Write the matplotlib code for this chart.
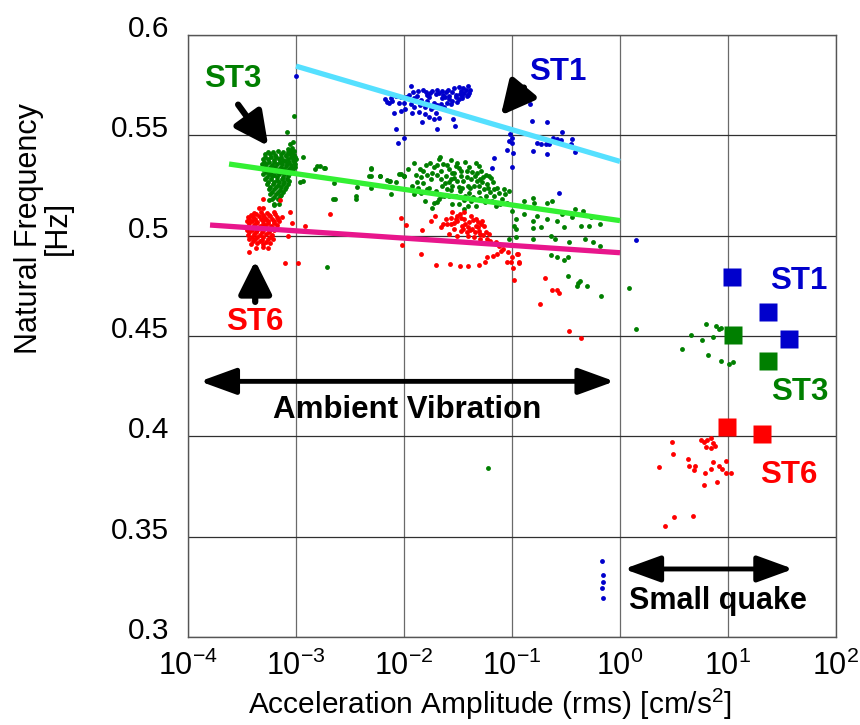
import numpy as np
import matplotlib
matplotlib.use('Agg')
import matplotlib.pyplot as plt
from matplotlib.transforms import ScaledTranslation

plt.rcParams['font.family'] = ['Liberation Sans', 'DejaVu Sans']
plt.rcParams['mathtext.fontset'] = 'custom'
plt.rcParams['mathtext.rm'] = 'Liberation Sans'
plt.rcParams['mathtext.it'] = 'Liberation Sans:italic'
plt.rcParams['mathtext.bf'] = 'Liberation Sans:bold'

# ==========================================================
# DADOS (amplitude rms [cm/s2], frequencia natural [Hz])
# ==========================================================
# ST1 - vibracao ambiente
st1_pts = [
    (1.15e-2, .5745), (1.51e-2, .5728), (1.83e-2, .5720), (2.1e-2, .5712), (2.43e-2, .5715),
    (2.81e-2, .5717), (3.36e-2, .5723), (3.92e-2, .5745), (4.09e-2, .5728), (3.81e-2, .5695),
    (3.24e-2, .5679), (2.81e-2, .5670), (2.52e-2, .5662), (2.19e-2, .5654), (1.9e-2, .5662),
    (1.64e-2, .5670), (1.43e-2, .5675), (1.24e-2, .5687), (1.15e-2, .5654), (1.0e-2, .5662),
    (9.0e-3, .5662), (7.8e-3, .5670), (7.0e-3, .5667), (6.6e-3, .5682), (8.1e-3, .5612),
    (9.3e-3, .5620), (1.03e-2, .5629), (1.19e-2, .5612), (1.37e-2, .5615), (1.58e-2, .5604),
    (1.77e-2, .5629), (1.96e-2, .5612), (2.1e-2, .5588), (1.9e-2, .5579), (1.48e-2, .5566),
    (2.04e-2, .5533), (2.87e-2, .5579), (2.95e-2, .5546), (8.5e-3, .5530), (1.0e-2, .5485),
    (8.8e-3, .5460), (2.27e-2, .5687), (2.61e-2, .5695), (3.01e-2, .5703), (3.48e-2, .5698),
    (3.6e-2, .5712), (1.64e-2, .5703), (1.33e-2, .5695), (1.11e-2, .5703), (9.3e-3, .5692),
    (7.5e-3, .5687), (1.96e-2, .5708), (1.7e-2, .5690), (2.3e-2, .5700), (2.6e-2, .5680),
    (3.0e-2, .5690), (3.3e-2, .5705), (1.4e-2, .5650), (2.0e-2, .5650), (2.4e-2, .5690),
    (1.2e-2, .5715), (1.35e-2, .5720), (1.6e-2, .5718), (1.75e-2, .5712), (2.0e-2, .5725),
    (2.25e-2, .5722), (2.55e-2, .5728), (2.9e-2, .5735), (3.2e-2, .5740), (3.5e-2, .5735),
    (3.75e-2, .5725), (4.0e-2, .5710), (3.9e-2, .5700), (3.45e-2, .5685), (3.1e-2, .5665),
    (2.7e-2, .5655), (2.35e-2, .5640), (1.85e-2, .5640), (1.55e-2, .5640), (1.25e-2, .5640),
    (1.05e-2, .5690), (8.5e-3, .5695), (7.3e-3, .5660), (1.7e-2, .5590),
    (1.0e-3, .5794),
    (9.6e-2, .5505), (9.9e-2, .5488), (9.4e-2, .5471), (0.100, .5460), (9.0e-2, .5427),
    (0.102, .5414), (0.100, .5340), (6.8e-2, .5387), (6.5e-2, .5336),
    (0.148, .5657), (0.153, .5571), (0.21, .5566), (0.29, .5518), (0.17, .5460),
    (0.186, .5455), (0.205, .5455), (0.24, .5488), (0.285, .5476), (0.36, .5480),
    (0.35, .5455), (0.38, .5417), (0.155, .5422), (0.21, .5405), (0.22, .5455),
    (0.23, .5471), (0.26, .5480), (0.27, .5212), (1.42, .4978),
    (0.68, .3378), (0.70, .3310), (0.69, .3275), (0.68, .3245), (0.69, .3194),
]

# ST3 - vibracao ambiente
st3_pts = [
    # nucleo denso em ~7e-4
    (5.2e-4, .5405), (5.8e-4, .5408), (6.4e-4, .5403), (7.2e-4, .5406), (8.0e-4, .5404), (8.8e-4, .5407), (9.6e-4, .5402),
    (4.9e-4, .5380), (5.5e-4, .5383), (6.2e-4, .5378), (6.9e-4, .5381), (7.6e-4, .5379), (8.5e-4, .5382), (9.3e-4, .5378), (1.0e-3, .5381),
    (4.8e-4, .5356), (5.3e-4, .5358), (6.0e-4, .5354), (6.6e-4, .5357), (7.4e-4, .5355), (8.2e-4, .5358), (9.0e-4, .5354), (9.7e-4, .5356),
    (4.9e-4, .5331), (5.5e-4, .5333), (6.2e-4, .5329), (6.9e-4, .5332), (7.7e-4, .5330), (8.6e-4, .5333), (9.4e-4, .5330),
    (5.0e-4, .5306), (5.6e-4, .5308), (6.3e-4, .5304), (7.0e-4, .5307), (7.8e-4, .5305), (8.7e-4, .5307),
    (5.2e-4, .5281), (5.9e-4, .5283), (6.6e-4, .5279), (7.4e-4, .5282), (8.3e-4, .5280),
    (5.4e-4, .5256), (6.1e-4, .5258), (6.8e-4, .5254), (7.6e-4, .5257), (8.4e-4, .5255),
    (5.6e-4, .5231), (6.3e-4, .5233), (7.1e-4, .5229), (7.9e-4, .5232),
    (5.8e-4, .5207), (6.5e-4, .5209), (7.3e-4, .5205),
    (6.0e-4, .5182), (6.8e-4, .5184), (6.3e-4, .5160), (7.0e-4, .5158),
    (5.5e-4, .5418), (6.1e-4, .5418), (6.8e-4, .5420), (7.6e-4, .5417), (8.4e-4, .5419), (9.2e-4, .5418),
    (5.2e-4, .5393), (5.85e-4, .5394), (6.55e-4, .5392), (7.3e-4, .5393), (8.1e-4, .5395), (8.9e-4, .5392), (9.7e-4, .5393),
    (5.05e-4, .5368), (5.65e-4, .5369), (6.3e-4, .5367), (7.05e-4, .5368), (7.9e-4, .5370), (8.7e-4, .5367), (9.5e-4, .5368),
    (5.15e-4, .5343), (5.75e-4, .5344), (6.45e-4, .5342), (7.2e-4, .5343), (8.0e-4, .5345), (8.9e-4, .5342), (9.8e-4, .5343),
    (5.25e-4, .5318), (5.9e-4, .5319), (6.6e-4, .5317), (7.35e-4, .5318), (8.2e-4, .5320), (9.0e-4, .5317),
    (5.35e-4, .5294), (6.0e-4, .5295), (6.7e-4, .5293), (7.5e-4, .5294), (8.4e-4, .5296),
    (5.55e-4, .5268), (6.25e-4, .5269), (7.0e-4, .5267), (7.8e-4, .5268), (8.6e-4, .5270),
    (5.8e-4, .5243), (6.5e-4, .5244), (7.3e-4, .5242), (8.1e-4, .5243),
    (6.0e-4, .5219), (6.8e-4, .5220), (7.6e-4, .5218), (6.2e-4, .5195), (7.1e-4, .5196),
    (5.65e-4, .5177), (6.3e-4, .5152),
    (8.85e-4, .5455), (9.45e-4, .5466), (9.2e-4, .5438), (8.5e-4, .5430), (9.6e-4, .5422),
    (8.85e-4, .5422), (8.3e-4, .5516), (9.5e-4, .5596),
    # entre 1e-3 e 1e-2
    (1.15e-3, .5392), (1.5e-3, .5331), (1.67e-3, .5347), (1.87e-3, .5336), (1.09e-3, .5266),
    (1.17e-3, .5273), (2.25e-3, .5261), (2.2e-3, .5185), (3.7e-3, .5241), (3.6e-3, .5197),
    (3.6e-3, .5182), (4.9e-3, .5336), (5.0e-3, .5296), (6.0e-3, .5296), (4.9e-3, .5236),
    (7.4e-3, .5273), (7.6e-3, .5207), (1.94e-3, .4846), (1.56e-3, .5347), (1.8e-3, .5339),
    (2.3e-3, .5182), (4.7e-3, .5298), (5.0e-3, .5334), (6.0e-3, .5298), (7.0e-3, .5276),
    (9.0e-3, .5306), (1.0e-2, .5298),
    # nuvem principal
    (1.24e-2, .5361), (1.51e-2, .5322), (1.75e-2, .5361), (1.9e-2, .5344), (2.19e-2, .5322),
    (2.71e-2, .5377), (3.0e-2, .5347), (2.9e-2, .5314), (3.7e-2, .5367), (3.8e-2, .5322),
    (4.7e-2, .5314), (5.1e-2, .5281), (5.9e-2, .5256), (6.6e-2, .5265), (6.8e-2, .5231),
    (7.6e-2, .5215), (8.7e-2, .5207), (9.4e-2, .5223), (9.3e-3, .5306), (8.4e-3, .5268),
    (1.0e-2, .5298), (7.2e-3, .5273), (1.19e-2, .5248), (1.33e-2, .5265), (1.43e-2, .5290),
    (1.58e-2, .5173), (1.83e-2, .5140), (1.9e-2, .5165), (2.1e-2, .5182), (2.35e-2, .5198),
    (2.52e-2, .5231), (2.81e-2, .5248), (3.12e-2, .5273), (3.48e-2, .5240), (3.7e-2, .5198),
    (4.2e-2, .5173), (3.24e-2, .5157), (3.6e-2, .5132), (4.6e-2, .5149), (5.1e-2, .5190),
    (5.5e-2, .5231), (2.43e-2, .5298), (2.7e-2, .5281), (3.36e-2, .5298), (4.2e-2, .5281),
    (4.45e-2, .5248), (3.24e-2, .5339), (2.19e-2, .5281), (1.77e-2, .5281), (1.64e-2, .5231),
    (1.43e-2, .5215), (1.24e-2, .5207), (2.27e-2, .5248), (1.96e-2, .5223), (2.61e-2, .5331),
    (2.1e-2, .5380), (4.95e-2, .5248), (6.1e-2, .5298), (5.7e-2, .5198), (6.8e-2, .5198),
    (7.1e-2, .5149), (9.0e-2, .5165), (1.6e-2, .5350), (2.3e-2, .5355), (2.8e-2, .5310),
    (3.3e-2, .5225), (3.9e-2, .5250), (4.0e-2, .5340), (4.5e-2, .5295), (5.3e-2, .5265),
    (2.0e-2, .5300), (2.6e-2, .5265), (3.0e-2, .5200), (4.0e-2, .5215), (1.4e-2, .5330),
    (4.9e-2, .5345), (6.3e-2, .5220), (8.0e-2, .5185),
    (1.3e-2, .5300), (1.5e-2, .5260), (1.7e-2, .5240), (1.8e-2, .5310), (2.0e-2, .5350),
    (2.2e-2, .5200), (2.4e-2, .5260), (2.5e-2, .5350), (2.6e-2, .5200), (2.75e-2, .5230),
    (2.9e-2, .5285), (3.1e-2, .5360), (3.2e-2, .5245), (3.4e-2, .5320), (3.5e-2, .5270),
    (3.6e-2, .5180), (3.8e-2, .5290), (4.1e-2, .5240), (4.3e-2, .5315), (4.4e-2, .5195),
    (4.7e-2, .5270), (5.0e-2, .5220), (5.4e-2, .5290), (5.6e-2, .5170), (6.0e-2, .5240),
    (6.5e-2, .5175), (7.2e-2, .5240), (7.8e-2, .5160), (8.5e-2, .5235), (1.1e-2, .5330),
    (1.35e-2, .5240), (1.65e-2, .5300), (2.15e-2, .5390), (2.8e-2, .5160), (3.9e-2, .5150),
    (4.6e-2, .5360), (5.2e-2, .5320), (5.8e-2, .5300), (6.4e-2, .5285), (2.0e-2, .5170),
    # cauda ate 1e0
    (0.100, .5124), (0.108, .5082), (0.104, .5046), (0.108, .4992), (9.4e-2, .4983),
    (0.13, .5173), (0.155, .5190), (0.16, .5165), (0.21, .5165), (0.235, .5173),
    (0.17, .5099), (0.21, .5082), (0.26, .5074), (0.155, .5074), (0.155, .5036),
    (0.186, .5041), (0.30, .5041), (0.38, .5132), (0.45, .5124), (0.36, .5091),
    (0.44, .5046), (0.52, .5049), (0.65, .5058), (0.23, .5000), (0.25, .4983),
    (0.34, .4967), (0.47, .4983), (0.56, .4967), (0.65, .4950), (0.155, .4983),
    (0.108, .5031), (0.13, .5107), (0.29, .5107), (0.54, .5091),
    (0.23, .4904), (0.26, .4892), (0.30, .4880), (0.33, .4892), (0.33, .4801),
    (0.41, .4764), (0.43, .4776), (0.40, .4751), (0.49, .4750), (0.67, .4701),
    (1.22, .4741), (1.40, .4533), (6.0e-2, .3840),
    # pequeno sismo
    (4.5, .4503), (5.8, .4481), (6.3, .4561), (7.7, .4551), (8.2, .4533), (8.6, .4541),
    (7.3, .4495), (3.75, .4437), (6.5, .4405), (8.6, .4376), (10.3, .4359), (11.2, .4369),
]

# ST6 - vibracao ambiente
st6_pts = [
    (4.5e-4, .5140), (5.0e-4, .5138),
    (4.1e-4, .5115), (4.7e-4, .5117), (5.4e-4, .5113), (6.2e-4, .5116),
    (3.6e-4, .5095), (4.0e-4, .5093), (4.5e-4, .5096), (5.1e-4, .5094), (5.8e-4, .5097), (6.6e-4, .5093), (7.4e-4, .5095),
    (3.5e-4, .5072), (3.9e-4, .5074), (4.4e-4, .5070), (4.9e-4, .5073), (5.5e-4, .5071), (6.2e-4, .5074), (7.0e-4, .5072),
    (3.6e-4, .5050), (4.1e-4, .5052), (4.6e-4, .5048), (5.2e-4, .5051), (5.9e-4, .5049), (6.6e-4, .5052),
    (3.5e-4, .5028), (3.9e-4, .5030), (4.4e-4, .5026), (5.0e-4, .5029), (5.6e-4, .5027), (6.3e-4, .5030),
    (3.6e-4, .5005), (4.1e-4, .5007), (4.6e-4, .5003), (5.3e-4, .5006), (6.0e-4, .5004),
    (3.7e-4, .4982), (4.2e-4, .4984), (4.8e-4, .4980), (5.5e-4, .4983), (6.1e-4, .4981),
    (3.8e-4, .4960), (4.4e-4, .4962), (5.0e-4, .4958), (5.7e-4, .4961),
    (4.3e-4, .4940), (5.0e-4, .4942), (5.5e-4, .4938),
    (3.8e-4, .5105), (4.3e-4, .5106), (4.9e-4, .5104), (5.6e-4, .5105), (6.4e-4, .5106),
    (3.7e-4, .5083), (4.2e-4, .5084), (4.7e-4, .5082), (5.3e-4, .5083), (6.0e-4, .5085), (6.8e-4, .5082),
    (3.7e-4, .5061), (4.3e-4, .5062), (4.9e-4, .5060), (5.5e-4, .5061), (6.3e-4, .5062),
    (3.75e-4, .5039), (4.25e-4, .5040), (4.8e-4, .5038), (5.4e-4, .5039), (6.1e-4, .5040),
    (3.7e-4, .5017), (4.3e-4, .5018), (4.85e-4, .5016), (5.6e-4, .5017),
    (3.9e-4, .4993), (4.4e-4, .4994), (5.0e-4, .4992), (5.7e-4, .4993),
    (4.0e-4, .4971), (4.6e-4, .4972), (5.3e-4, .4970),
    (4.97e-4, .5185), (7.05e-4, .5177), (8.85e-4, .5119), (9.2e-4, .5061), (8.35e-4, .4997),
    (1.22e-3, .5049), (2.07e-3, .5107), (3.7e-4, .4917), (7.9e-4, .4862), (1.05e-3, .4862),
    # nuvem em ~3e-2
    (2.81e-2, .5116), (3.6e-2, .5116), (4.6e-2, .5082), (5.3e-2, .5074), (2.43e-2, .5082),
    (2.7e-2, .5058), (3.12e-2, .5074), (3.48e-2, .5049), (4.0e-2, .5066), (4.3e-2, .5033),
    (4.8e-2, .5041), (5.1e-2, .5008), (5.7e-2, .5016), (3.8e-2, .5016), (3.36e-2, .5024),
    (2.9e-2, .5033), (2.6e-2, .5008), (3.12e-2, .5000), (4.45e-2, .4992), (5.1e-2, .4983),
    (5.9e-2, .4983), (2.19e-2, .5041), (3.6e-2, .5082), (4.2e-2, .5099), (3.12e-2, .5099),
    (4.8e-2, .5066), (5.5e-2, .5049), (2.52e-2, .5058), (3.9e-2, .5045), (4.5e-2, .5020),
    (3.4e-2, .5090), (2.9e-2, .5065),
    (3.0e-2, .5085), (3.3e-2, .5110), (3.7e-2, .5060), (4.1e-2, .5030), (4.4e-2, .5080),
    (4.9e-2, .5025), (5.4e-2, .5005), (2.7e-2, .5090), (3.5e-2, .5035), (4.6e-2, .5050),
    (5.2e-2, .5060), (3.9e-2, .5000), (2.3e-2, .5060), (6.1e-2, .5010),
    (6.3e-2, .4975), (7.1e-2, .4967), (7.6e-2, .4950), (7.9e-2, .4925), (7.3e-2, .4909),
    (6.6e-2, .4897), (5.9e-2, .4892), (8.2e-2, .4933),
    (9.3e-3, .5089), (1.04e-2, .5054), (1.46e-2, .5029), (9.5e-3, .4955), (1.43e-2, .4909),
    (1.96e-2, .4852), (2.67e-2, .4857), (3.3e-2, .4849), (3.9e-2, .4849), (5.0e-2, .4852),
    (5.6e-2, .4870), (1.77e-2, .5074), (1.93e-2, .5096),
    (9.2e-2, .4917), (0.100, .4892), (0.111, .4909), (0.115, .4867), (9.8e-2, .4867),
    (0.102, .4838), (0.104, .4780), (9.0e-2, .4867), (0.113, .4909), (0.115, .4864),
    (0.20, .4788), (0.18, .4660), (0.235, .4728), (0.26, .4728), (0.275, .4716),
    (0.34, .4526), (0.44, .4492),
    # pequeno sismo
    (3.05, .3973), (3.12, .3913), (2.28, .3849), (4.27, .3885), (4.33, .3854), (4.92, .3850),
    (4.85, .3834), (5.6, .3980), (6.0, .3973), (6.35, .3980), (7.0, .3993), (7.3, .3965),
    (6.9, .3940), (6.2, .3945), (7.65, .3953), (6.1, .3819), (6.9, .3837), (7.3, .3874),
    (8.2, .3854), (8.8, .3837), (9.6, .3875), (9.5, .3816), (10.6, .3816), (6.0, .3755),
    (7.9, .3770), (3.16, .3599), (4.7, .3604), (2.6, .3553),
]

# identificacao por pequeno sismo (quadrados)
quake_st1_amp = [10.8, 23.4, 36.7]
quake_st1_freq = [0.4796, 0.4620, 0.4486]
quake_st3_amp = [11.2, 23.4]
quake_st3_freq = [0.4503, 0.4376]
quake_st6_amp = [9.7, 20.6]
quake_st6_freq = [0.4049, 0.4011]

# retas de tendencia (extremos)
trend_st1_amp, trend_st1_freq = [1e-3, 1.0], [0.5845, 0.5370]
trend_st3_amp, trend_st3_freq = [2.4e-4, 1.0], [0.5357, 0.5075]
trend_st6_amp, trend_st6_freq = [1.6e-4, 1.0], [0.5053, 0.4915]

# cores
cor_st1 = '#0000CC'
cor_st3 = '#007F00'
cor_st6 = '#FF0000'

# ==========================================================
# FIGURA
# ==========================================================
fig = plt.figure(figsize=(8.6, 7.25), dpi=100)
ax = fig.add_axes([188 / 860, 88 / 725, 648 / 860, 602 / 725])
ax.set_xscale('log')

for pts, cor in [(st1_pts, cor_st1), (st3_pts, cor_st3), (st6_pts, cor_st6)]:
    amp, freq = np.array(pts).T
    ax.plot(amp, freq, 'o', color=cor, ms=3.5, mec='none', zorder=3)

ax.plot(trend_st1_amp, trend_st1_freq, color='#55E0FF', lw=3.8, solid_capstyle='butt', zorder=4)
ax.plot(trend_st3_amp, trend_st3_freq, color='#33F033', lw=3.8, solid_capstyle='butt', zorder=4)
ax.plot(trend_st6_amp, trend_st6_freq, color='#E8168C', lw=3.8, solid_capstyle='butt', zorder=4)

ax.plot(quake_st1_amp, quake_st1_freq, 's', color=cor_st1, ms=13, mec='none', zorder=5)
ax.plot(quake_st3_amp, quake_st3_freq, 's', color=cor_st3, ms=13, mec='none', zorder=5)
ax.plot(quake_st6_amp, quake_st6_freq, 's', color=cor_st6, ms=13, mec='none', zorder=5)

# textos e setas
fs_st = 22.5
ax.text(2.62e-4, 0.5783, 'ST3', color=cor_st3, fontsize=fs_st, fontweight='bold', ha='center', va='center')
ax.text(0.267, 0.5818, 'ST1', color=cor_st1, fontsize=fs_st, fontweight='bold', ha='center', va='center')
ax.text(4.19e-4, 0.4569, 'ST6', color=cor_st6, fontsize=fs_st, fontweight='bold', ha='center', va='center')
ax.text(44.9, 0.4776, 'ST1', color=cor_st1, fontsize=fs_st, fontweight='bold', ha='center', va='center')
ax.text(46.5, 0.4222, 'ST3', color=cor_st3, fontsize=fs_st, fontweight='bold', ha='center', va='center')
ax.text(36.2, 0.3807, 'ST6', color=cor_st6, fontsize=fs_st, fontweight='bold', ha='center', va='center')
ax.text(1.07e-2, 0.4130, 'Ambient Vibration', fontsize=22.5, fontweight='bold', ha='center', va='center')
ax.text(8.1, 0.3178, 'Small quake', fontsize=22, fontweight='bold', ha='center', va='center')

seta = dict(arrowstyle='-|>,head_length=1.0,head_width=0.5', lw=4.5, color='black',
            mutation_scale=20, shrinkA=0, shrinkB=0)
ax.annotate('', xy=(0.0788, 0.5599), xytext=(0.129, 0.5738), arrowprops=seta, zorder=6)
ax.annotate('', xy=(5.53e-4, 0.5447), xytext=(2.91e-4, 0.5653), arrowprops=seta, zorder=6)
ax.annotate('', xy=(4.19e-4, 0.4875), xytext=(4.19e-4, 0.4670), arrowprops=seta, zorder=6)

seta_dupla = dict(arrowstyle='<|-|>,head_length=1.1,head_width=0.4', lw=3.5, color='black',
                  mutation_scale=20, shrinkA=0, shrinkB=0)
ax.annotate('', xy=(0.89, 0.4274), xytext=(1.29e-4, 0.4274), arrowprops=seta_dupla, zorder=6)
ax.annotate('', xy=(40.3, 0.3339), xytext=(1.09, 0.3339), arrowprops=seta_dupla, zorder=6)

# eixos
ax.set_xlim(1e-4, 1e2)
ax.set_ylim(0.3, 0.6)
ax.set_xticks([1e-4, 1e-3, 1e-2, 1e-1, 1e0, 1e1, 1e2])
ax.set_yticks([0.3, 0.35, 0.4, 0.45, 0.5, 0.55, 0.6])
ax.set_yticklabels(['0.3', '0.35', '0.4', '0.45', '0.5', '0.55', '0.6'])
ax.minorticks_off()
ax.tick_params(axis='both', length=0)
ax.tick_params(axis='x', labelsize=22, pad=10)
ax.tick_params(axis='y', labelsize=21.5, pad=13.5)
desloc = ScaledTranslation(0, 6.5 / 72, fig.dpi_scale_trans)
for rotulo in ax.get_yticklabels():
    rotulo.set_transform(rotulo.get_transform() + desloc)

ax.xaxis.grid(True, color='#6a6a6a', lw=0.9)
ax.yaxis.grid(True, color='#303030', lw=0.9)
ax.set_axisbelow(True)
for lado in ax.spines.values():
    lado.set_color('#555555')
    lado.set_linewidth(1.0)

ax.set_xlabel('Acceleration Amplitude (rms) [cm/s$^2$]', fontsize=21.5)
ax.xaxis.set_label_coords(0.466, -0.082)
ax.set_ylabel('Natural Frequency\n[Hz]', fontsize=22, linespacing=0.95)
ax.yaxis.set_label_coords(-0.178, 0.679)

fig.savefig('out.png', dpi=100)
